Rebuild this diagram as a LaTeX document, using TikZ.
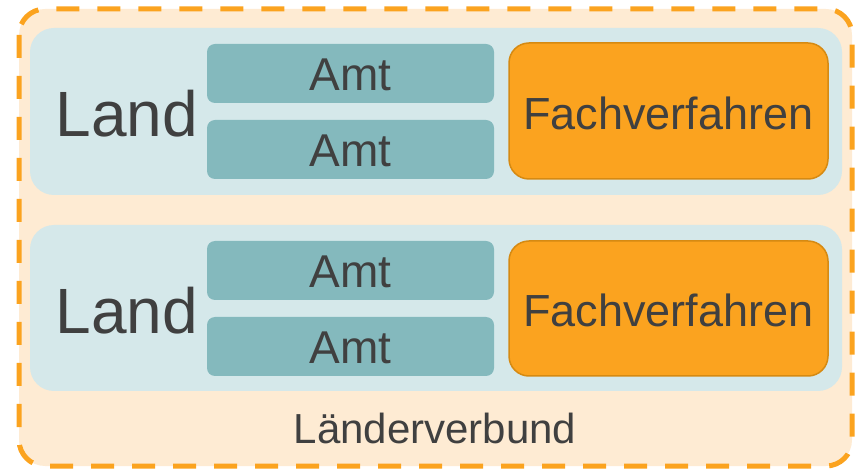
\documentclass[tikz,border=0pt]{standalone}
\usepackage{fontspec}
\setmainfont{Liberation Sans}
\definecolor{outerfill}{HTML}{FEEBD3}
\definecolor{dashorange}{HTML}{FBA31F}
\definecolor{landfill}{HTML}{D5E8EA}
\definecolor{amtfill}{HTML}{84B9BD}
\definecolor{fvfill}{HTML}{FBA31F}
\definecolor{fvdraw}{HTML}{D68A12}
\definecolor{txt}{HTML}{404040}
\begin{document}
\begin{tikzpicture}[x=1pt,y=-1pt,
  outerbox/.style={draw=dashorange, fill=outerfill, line width=5pt, dash pattern=on 23pt off 18pt, rounded corners=26pt},
  landbox/.style={fill=landfill, rounded corners=24pt},
  amtbox/.style={fill=amtfill, rounded corners=8pt},
  fvbox/.style={draw=fvdraw, fill=fvfill, line width=1.5pt, rounded corners=20pt},
  lbl/.style={text=txt, inner sep=0pt, anchor=center}]
\useasboundingbox (0,0) rectangle (860,470);
\draw[outerbox] (19,9) rectangle (852,466);
\fill[landbox] (30,28) rectangle (842,195);
\fill[landbox] (30,225) rectangle (842,391);
% row 1
\fill[amtbox] (207,44) rectangle (494,103);
\fill[amtbox] (207,120) rectangle (494,179);
\draw[fvbox] (509,43) rectangle (828,179);
% row 2
\fill[amtbox] (207,241) rectangle (494,300);
\fill[amtbox] (207,317) rectangle (494,376);
\draw[fvbox] (509,241) rectangle (828,376);
\node[lbl, font=\fontsize{64}{72}\selectfont] (land1) at (127,114) {Land};
\node[lbl, font=\fontsize{64}{72}\selectfont] (land2) at (127,311) {Land};
\node[lbl, font=\fontsize{46}{52}\selectfont] (amt1) at (350.5,75) {Amt};
\node[lbl, font=\fontsize{46}{52}\selectfont] (amt2) at (350.5,151) {Amt};
\node[lbl, font=\fontsize{46}{52}\selectfont] (amt3) at (350.5,272) {Amt};
\node[lbl, font=\fontsize{46}{52}\selectfont] (amt4) at (350.5,348) {Amt};
\node[lbl, font=\fontsize{45}{52}\selectfont] (fv1) at (668.5,113) {Fachverfahren};
\node[lbl, font=\fontsize{45}{52}\selectfont] (fv2) at (668.5,310) {Fachverfahren};
\node[lbl, font=\fontsize{42}{48}\selectfont] (lv) at (435,428) {Länderverbund};
\end{tikzpicture}
\end{document}
